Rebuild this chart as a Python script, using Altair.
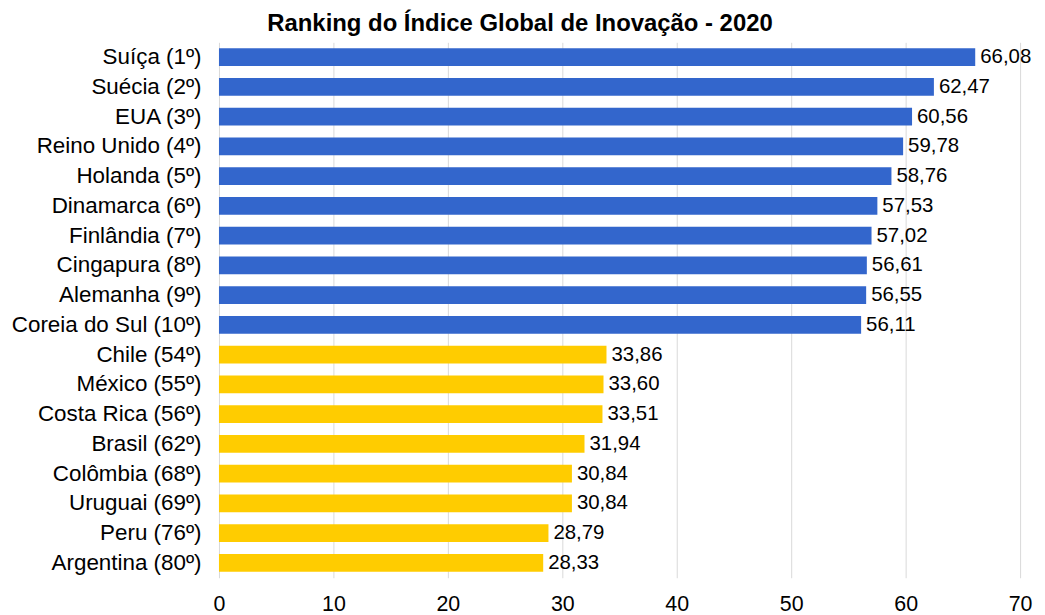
import altair as alt
import pandas as pd

countries = ["Suíça (1º)", "Suécia (2º)", "EUA (3º)", "Reino Unido (4º)", "Holanda (5º)",
             "Dinamarca (6º)", "Finlândia (7º)", "Cingapura (8º)", "Alemanha (9º)",
             "Coreia do Sul (10º)", "Chile (54º)", "México (55º)", "Costa Rica (56º)",
             "Brasil (62º)", "Colômbia (68º)", "Uruguai (69º)", "Peru  (76º)", "Argentina (80º)"]
scores = [66.08, 62.47, 60.56, 59.78, 58.76, 57.53, 57.02, 56.61, 56.55, 56.11,
          33.86, 33.60, 33.51, 31.94, 30.84, 30.84, 28.79, 28.33]
groups = ["top"] * 10 + ["latam"] * 8

df = pd.DataFrame({"pais": countries, "valor": scores, "grupo": groups})

font = "Liberation Sans"

base = alt.Chart(df).encode(
    y=alt.Y("pais:N", sort=countries, title=None,
            scale=alt.Scale(paddingInner=0.4, paddingOuter=0.2),
            axis=alt.Axis(labelFontSize=22.5, labelFont=font, labelColor="#000000",
                          ticks=False, domain=False, labelPadding=18,
                          minExtent=212, maxExtent=212, labelLimit=300)),
)

bars = base.mark_bar().encode(
    x=alt.X("valor:Q", title=None, scale=alt.Scale(domain=[0, 70]),
            axis=alt.Axis(values=[0, 10, 20, 30, 40, 50, 60, 70], labelFontSize=21.5,
                          labelFont=font, labelColor="#000000", ticks=False,
                          domain=False, gridColor="#d9d9d9", labelPadding=16,
                          labelFlush=False)),
    color=alt.Color("grupo:N", scale=alt.Scale(domain=["top", "latam"],
                                               range=["#3366CC", "#FFCC00"]), legend=None),
)

text = base.transform_calculate(
    lbl="replace(format(datum.valor, '.2f'), '.', ',')"
).mark_text(align="left", dx=5, fontSize=20.5, font=font, color="#000000").encode(
    x="valor:Q", text="lbl:N"
)

chart = (bars + text).properties(
    width=805, height=538,
    padding={"left": 0, "top": 3, "right": 5, "bottom": 5},
    title=alt.TitleParams("Ranking do Índice Global de Inovação - 2020", fontSize=24,
                          font=font, fontWeight="bold", color="#000000", offset=6,
                          anchor="middle", frame="bounds"),
).configure_view(stroke=None)

chart.save("out.html", embed_options={"renderer": "svg", "actions": False})
